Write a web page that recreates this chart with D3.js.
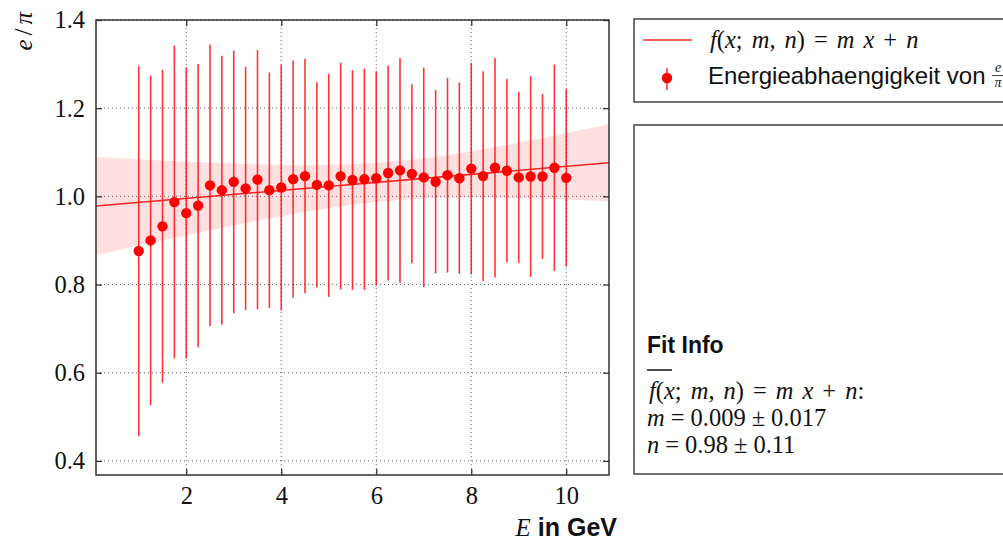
<!DOCTYPE html>
<html><head><meta charset="utf-8">
<script src="https://cdn.jsdelivr.net/npm/d3@7"></script>
<style>
html,body{margin:0;padding:0;background:#fff;}
svg{display:block;}
</style></head>
<body>
<svg id="chart" width="1003" height="543"></svg>
<script>
// ---- data ----
const energies = [1.00,1.25,1.50,1.75,2.00,2.25,2.50,2.75,3.00,3.25,3.50,3.75,4.00,4.25,4.50,4.75,5.00,5.25,5.50,5.75,6.00,6.25,6.50,6.75,7.00,7.25,7.50,7.75,8.00,8.25,8.50,8.75,9.00,9.25,9.50,9.75,10.00];
const ratios = [0.876,0.900,0.932,0.987,0.962,0.979,1.025,1.014,1.033,1.018,1.038,1.014,1.020,1.039,1.046,1.026,1.025,1.046,1.037,1.039,1.041,1.053,1.059,1.051,1.043,1.033,1.048,1.041,1.063,1.046,1.065,1.058,1.043,1.045,1.045,1.065,1.042];
const ratioErrors = [0.420,0.374,0.355,0.355,0.330,0.321,0.319,0.305,0.298,0.276,0.294,0.267,0.279,0.269,0.266,0.233,0.253,0.257,0.249,0.251,0.243,0.244,0.255,0.203,0.249,0.208,0.221,0.217,0.240,0.238,0.249,0.208,0.194,0.228,0.187,0.234,0.201];
const fitM = 0.0091, fitN = 0.977;          // fitted line
const fitSigmaM = 0.0165, fitSigmaN = 0.113, fitCorr = -0.92; // fit uncertainties
const xTicks = [2,4,6,8,10];
const yTicks = [0.4,0.6,0.8,1.0,1.2,1.4];
const xDomain = [0.1, 10.9];
const yDomain = [0.368, 1.4];

// ---- layout ----
const svg = d3.select("#chart");
const L = 96, R = 609, T = 20, B = 475;
const x = d3.scaleLinear().domain(xDomain).range([L, R]);
const y = d3.scaleLinear().domain(yDomain).range([B, T]);
const red = "#ff0000";
const serif = "'Liberation Serif', 'DejaVu Serif', serif";
const sans = "'Liberation Sans', Arial, sans-serif";

// grid
const grid = svg.append("g");
grid.selectAll(".gx").data(xTicks).join("line")
  .attr("x1", d => x(d)).attr("x2", d => x(d)).attr("y1", T).attr("y2", B)
  .attr("stroke", "#666").attr("stroke-width", 1).attr("stroke-dasharray", "1,3");
grid.selectAll(".gy").data(yTicks).join("line")
  .attr("y1", d => y(d)).attr("y2", d => y(d)).attr("x1", L).attr("x2", R)
  .attr("stroke", "#666").attr("stroke-width", 1).attr("stroke-dasharray", "1,3");

// confidence band
const bandXs = d3.range(0, 101).map(i => xDomain[0] + (xDomain[1] - xDomain[0]) * i / 100);
function sig(v){ return Math.sqrt(fitSigmaN*fitSigmaN + fitSigmaM*fitSigmaM*v*v + 2*fitCorr*fitSigmaM*fitSigmaN*v); }
svg.append("path")
  .datum(bandXs)
  .attr("d", d3.area().x(d => x(d)).y0(d => y(fitM*d + fitN - sig(d))).y1(d => y(fitM*d + fitN + sig(d))))
  .attr("fill", red).attr("fill-opacity", 0.12);

// fit line
svg.append("line")
  .attr("x1", x(xDomain[0])).attr("y1", y(fitM*xDomain[0] + fitN))
  .attr("x2", x(xDomain[1])).attr("y2", y(fitM*xDomain[1] + fitN))
  .attr("stroke", red).attr("stroke-width", 1.5).attr("stroke-opacity", 0.85);

// error bars
const pts = energies.map((e, i) => ({e, v: ratios[i], s: ratioErrors[i]}));
svg.append("g").selectAll("line").data(pts).join("line")
  .attr("x1", d => x(d.e)).attr("x2", d => x(d.e))
  .attr("y1", d => y(d.v - d.s)).attr("y2", d => y(d.v + d.s))
  .attr("stroke", red).attr("stroke-width", 1.6).attr("stroke-opacity", 0.8);
svg.append("g").selectAll("circle").data(pts).join("circle")
  .attr("cx", d => x(d.e)).attr("cy", d => y(d.v)).attr("r", 5.2)
  .attr("fill", red);

// axes
const axB = svg.append("g").attr("transform", `translate(0,${B})`)
  .call(d3.axisBottom(x).tickValues(xTicks).tickSizeInner(-6).tickSizeOuter(0).tickPadding(12).tickFormat(d3.format("d")));
const axT = svg.append("g").attr("transform", `translate(0,${T})`)
  .call(d3.axisTop(x).tickValues(xTicks).tickSizeInner(-6).tickSizeOuter(0).tickFormat(""));
const axL = svg.append("g").attr("transform", `translate(${L},0)`)
  .call(d3.axisLeft(y).tickValues(yTicks).tickSizeInner(-6).tickSizeOuter(0).tickPadding(11).tickFormat(d3.format(".1f")));
const axR = svg.append("g").attr("transform", `translate(${R},0)`)
  .call(d3.axisRight(y).tickValues(yTicks).tickSizeInner(-6).tickSizeOuter(0).tickFormat(""));
[axB, axT, axL, axR].forEach(a => {
  a.select(".domain").remove();
  a.selectAll(".tick line").attr("stroke", "#333").attr("stroke-width", 1.3);
  a.selectAll("text").attr("font-family", serif).attr("font-size", 24.5).attr("fill", "#111");
});
axB.selectAll("text").attr("dy", "0.71em");

// frame
svg.append("rect").attr("x", L).attr("y", T).attr("width", R - L).attr("height", B - T)
  .attr("fill", "none").attr("stroke", "#333").attr("stroke-width", 1.5);

// math text helper: tokens [text, italic?]; " " tokens become a gap (px)
function mathText(g, xPos, yPos, tokens, size, gap, anchor, transform){
  const t = g.append("text").attr("font-family", serif)
    .attr("font-size", size).attr("fill", "#111");
  if (transform) t.attr("transform", transform); else t.attr("x", xPos).attr("y", yPos);
  if (anchor) t.attr("text-anchor", anchor);
  let pending = 0;
  tokens.forEach(p => {
    if (p[0] === " ") { pending += gap; return; }
    const s = t.append("tspan").attr("font-style", p[1] ? "italic" : "normal").text(p[0]);
    if (pending) s.attr("dx", pending);
    pending = 0;
  });
  return t;
}

// axis labels
const xl = svg.append("text").attr("x", 617).attr("y", 536).attr("text-anchor", "end")
  .attr("fill", "#111");
xl.append("tspan").attr("font-family", serif).attr("font-style", "italic").attr("font-size", 25).text("E");
xl.append("tspan").attr("font-family", sans).attr("font-weight", "bold").attr("font-size", 25).attr("dx", 7).text("in GeV");

mathText(svg, 0, 0, [["e",1],[" "],["/",0],[" "],["π",1]], 25, 4, "end", "translate(32,12) rotate(-90)");

const fTokens = [["f",1],["(",0],["x",1],[";",0],[" "],["m",1],[",",0],[" "],["n",1],[")",0],[" "],["=",0],[" "],["m",1],[" "],["x",1],[" "],["+",0],[" "],["n",1]];

// legend box
const lg = svg.append("g");
lg.append("rect").attr("x", 634).attr("y", 19).attr("width", 380).attr("height", 83)
  .attr("fill", "#fff").attr("stroke", "#444").attr("stroke-width", 1.5);
lg.append("line").attr("x1", 643).attr("x2", 692).attr("y1", 40).attr("y2", 40)
  .attr("stroke", red).attr("stroke-width", 1.5).attr("stroke-opacity", 0.85);
mathText(lg, 710, 48, fTokens, 24.5, 9);
lg.append("line").attr("x1", 667).attr("x2", 667).attr("y1", 68).attr("y2", 90)
  .attr("stroke", red).attr("stroke-width", 1.6).attr("stroke-opacity", 0.8);
lg.append("circle").attr("cx", 667).attr("cy", 78).attr("r", 5.2).attr("fill", red);
lg.append("text").attr("x", 708).attr("y", 84).attr("font-family", sans).attr("font-size", 24)
  .attr("fill", "#111").text("Energieabhaengigkeit von");
lg.append("text").attr("x", 998).attr("y", 72).attr("text-anchor", "middle").attr("font-family", serif)
  .attr("font-style", "italic").attr("font-size", 14).attr("fill", "#111").text("e");
lg.append("line").attr("x1", 992).attr("x2", 1004).attr("y1", 75.5).attr("y2", 75.5).attr("stroke", "#111").attr("stroke-width", 0.8);
lg.append("text").attr("x", 998).attr("y", 87).attr("text-anchor", "middle").attr("font-family", serif)
  .attr("font-style", "italic").attr("font-size", 14).attr("fill", "#111").text("π");

// fit info box
const fb = svg.append("g");
fb.append("rect").attr("x", 634).attr("y", 125).attr("width", 380).attr("height", 349)
  .attr("fill", "#fff").attr("stroke", "#444").attr("stroke-width", 1.5);
fb.append("text").attr("x", 647).attr("y", 353).attr("font-family", sans).attr("font-weight", "bold")
  .attr("font-size", 23).attr("fill", "#111").text("Fit Info");
fb.append("line").attr("x1", 647).attr("x2", 672).attr("y1", 370).attr("y2", 370).attr("stroke", "#111").attr("stroke-width", 1.5);
mathText(fb, 649, 399, fTokens.concat([[":",0]]), 24.5, 9);
mathText(fb, 647, 426, [["m",1],[" "],["=",0],[" "],["0.009",0],[" "],["±",0],[" "],["0.017",0]], 24.5, 6);
mathText(fb, 647, 453, [["n",1],[" "],["=",0],[" "],["0.98",0],[" "],["±",0],[" "],["0.11",0]], 24.5, 6);
</script>
</body></html>
